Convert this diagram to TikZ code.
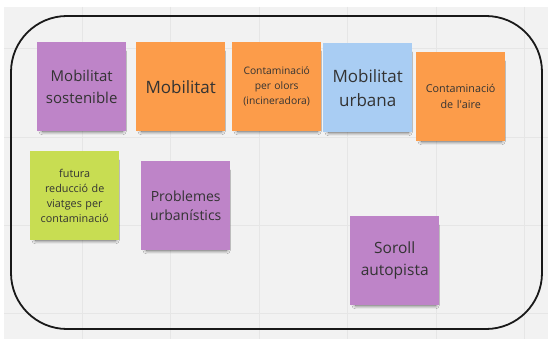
\documentclass[tikz,border=0pt]{standalone}
\usepackage{fontspec}
\setmainfont{Open Sans}
\usetikzlibrary{shadows.blur}
\definecolor{bg}{HTML}{F2F2F2}
\definecolor{gridc}{HTML}{E6E6E6}
\definecolor{violetn}{HTML}{BE84C8}
\definecolor{orangen}{HTML}{FC9C4A}
\definecolor{bluen}{HTML}{A9CDF3}
\definecolor{limen}{HTML}{C8DD52}
\definecolor{txt}{HTML}{333333}
\tikzset{
  note/.style={minimum width=89pt, minimum height=89pt, inner sep=2pt, align=center,
    text=txt, anchor=north west, text width=84pt,
    blur shadow={shadow xshift=1pt, shadow yshift=-5pt, shadow scale=0.9, shadow blur radius=4pt, shadow opacity=70}},
  frame/.style={draw=black!90, line width=1.8pt, rounded corners=56pt}
}
\begin{document}
\begin{tikzpicture}[x=1pt,y=-1pt]
\useasboundingbox (0,0) rectangle (548,339);
\fill[white] (0,0) rectangle (548,339);
\fill[bg] (4,7) rectangle (548,339);
\foreach \x in {82,170,259,347,436,524} \draw[gridc, line width=0.8pt] (\x,7) -- (\x,339);
\foreach \y in {48,137,225,313} \draw[gridc, line width=0.8pt] (4,\y) -- (548,\y);
\draw[frame] (11,16) rectangle (542,329);
\node[note, fill=violetn, font=\fontsize{15}{22}\selectfont] (n1) at (37,42) {Mobilitat\\sostenible};
\node[note, fill=orangen, font=\fontsize{17}{22}\selectfont] (n2) at (136,42) {Mobilitat};
\node[note, fill=orangen, font=\fontsize{10.3}{15}\selectfont] (n3) at (232,42) {Contaminació\\per olors\\(incineradora)};
\node[note, fill=bluen, font=\fontsize{17}{24}\selectfont] (n4) at (323,43) {Mobilitat\\urbana};
\node[note, fill=orangen, font=\fontsize{10.8}{16}\selectfont] (n5) at (416,52) {Contaminació\\de l\textquotesingle aire};
\node[note, fill=limen, font=\fontsize{10.8}{15}\selectfont] (n6) at (30,151) {futura\\reducció de\\viatges per\\contaminació};
\node[note, fill=violetn, font=\fontsize{14}{19}\selectfont] (n7) at (141,161) {Problemes\\urbanístics};
\node[note, fill=violetn, font=\fontsize{15.5}{22}\selectfont] (n8) at (350,216) {Soroll\\autopista};
\end{tikzpicture}
\end{document}
